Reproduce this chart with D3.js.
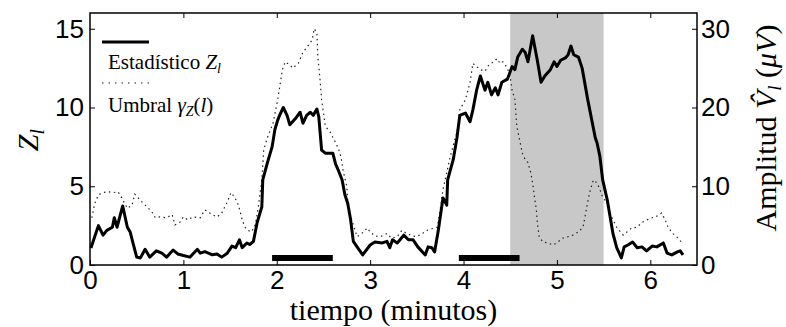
<!DOCTYPE html>
<meta charset="utf-8">
<script src="https://d3js.org/d3.v7.min.js"></script>
<style>
  body { margin: 0; background: #fff; }
</style>
<div id="chart"></div>
<script>
// estadistico Z_l (linea continua)
const tZ = [0.01,0.09,0.14,0.18,0.24,0.26,0.29,0.35,0.40,0.43,0.46,0.50,0.54,0.59,0.64,0.71,0.77,0.82,0.89,0.94,
  1.00,1.07,1.15,1.18,1.23,1.31,1.36,1.41,1.47,1.52,1.56,1.60,1.63,1.68,1.71,1.75,1.79,1.84,1.85,1.90,1.95,1.98,
  2.01,2.03,2.07,2.11,2.14,2.20,2.25,2.28,2.32,2.36,2.39,2.43,2.45,2.48,2.52,2.60,2.63,2.66,2.70,2.73,2.76,2.79,
  2.82,2.86,2.92,3.00,3.05,3.13,3.18,3.21,3.24,3.29,3.32,3.36,3.41,3.46,3.51,3.59,3.62,3.66,3.69,3.73,3.78,3.82,
  3.83,3.89,3.93,3.96,4.02,4.07,4.10,4.14,4.18,4.23,4.26,4.30,4.34,4.37,4.41,4.47,4.52,4.55,4.58,4.63,4.66,4.69,
  4.74,4.79,4.83,4.87,4.93,4.97,5.00,5.04,5.09,5.12,5.15,5.18,5.23,5.27,5.33,5.41,5.43,5.46,5.49,5.54,5.57,5.60,
  5.64,5.69,5.72,5.76,5.81,5.86,5.91,5.96,6.02,6.07,6.14,6.18,6.23,6.29,6.32,6.35];
const zZ = [1.08,2.5,1.9,2.2,2.4,3.0,2.4,3.75,2.4,2.1,1.4,0.5,0.45,1.0,0.5,0.9,0.75,0.5,0.95,0.7,
  0.6,0.5,1.0,0.75,0.85,0.65,0.7,0.5,0.75,1.2,1.1,1.6,1.1,1.4,1.3,1.5,2.7,3.7,5.4,6.5,7.5,8.6,
  9.2,9.5,10.0,9.5,8.9,9.3,9.7,9.0,9.5,9.7,9.5,9.9,9.4,7.3,7.1,7.1,6.4,6.0,5.4,4.45,3.9,2.9,
  1.5,1.15,0.64,1.27,1.46,1.4,1.5,1.1,1.6,1.4,1.6,1.9,1.6,1.6,1.15,0.64,1.15,1.1,0.83,2.2,4.26,3.8,
  5.4,6.7,8.1,9.5,9.65,9.1,9.85,11.1,12.0,11.1,11.6,10.8,11.25,10.8,11.6,11.8,12.6,12.4,13.2,13.7,13.5,12.9,
  14.55,13.0,11.6,12.0,12.4,12.9,12.6,13.0,13.15,13.35,13.9,13.35,13.2,12.5,10.5,8.1,7.75,6.9,5.4,4.1,3.05,2.0,
  1.1,0.45,1.15,1.27,1.46,1.1,1.15,0.9,1.2,1.15,1.4,0.75,0.64,0.83,0.9,0.64];

// umbral gamma_Z(l) (linea punteada)
const tU = [0.02,0.05,0.09,0.14,0.19,0.25,0.30,0.34,0.40,0.45,0.48,0.54,0.61,0.66,0.70,0.75,0.82,0.88,0.91,0.96,
  1.00,1.05,1.10,1.18,1.23,1.31,1.36,1.41,1.47,1.51,1.55,1.59,1.63,1.66,1.69,1.73,1.77,1.80,1.84,1.86,1.90,1.96,
  2.01,2.06,2.09,2.14,2.17,2.23,2.28,2.32,2.38,2.40,2.43,2.44,2.46,2.48,2.52,2.57,2.61,2.66,2.69,2.71,2.75,2.76,
  2.78,2.86,2.91,2.97,3.00,3.05,3.11,3.18,3.23,3.29,3.34,3.39,3.45,3.50,3.56,3.61,3.66,3.72,3.75,3.78,3.82,3.85,
  3.89,3.93,3.96,4.02,4.07,4.09,4.10,4.14,4.18,4.23,4.27,4.32,4.36,4.39,4.42,4.47,4.50,4.52,4.55,4.57,4.60,4.63,
  4.66,4.69,4.72,4.74,4.76,4.78,4.79,4.81,4.85,4.90,4.96,5.01,5.06,5.12,5.17,5.23,5.28,5.30,5.32,5.35,5.39,5.43,
  5.46,5.49,5.54,5.57,5.60,5.64,5.68,5.71,5.75,5.80,5.86,5.91,5.96,6.02,6.07,6.12,6.16,6.19,6.24,6.30,6.34];
const zU = [3.0,3.9,4.45,4.6,4.65,4.6,4.65,4.26,3.6,3.8,4.5,4.1,3.7,3.4,3.0,3.05,3.0,3.2,2.55,2.7,
  3.05,2.86,3.05,3.0,3.5,3.2,3.05,3.3,4.0,4.6,4.3,3.8,2.86,2.4,2.2,2.1,2.55,3.6,5.4,7.3,8.1,9.0,
  10.5,12.4,12.9,12.7,12.5,12.8,13.5,13.8,14.3,15.0,14.75,13.2,12.0,10.5,8.8,8.45,8.0,7.4,6.8,6.0,5.0,4.1,
  3.3,1.8,2.0,2.35,2.1,1.85,1.8,2.0,1.7,1.8,2.2,2.0,1.85,1.8,2.0,2.2,2.3,2.4,3.5,4.8,5.85,6.7,
  7.6,8.45,9.85,10.5,11.6,12.4,12.8,12.6,12.4,12.3,12.7,12.9,13.1,12.8,12.9,12.5,11.9,11.1,10.5,8.8,7.95,7.1,
  6.7,6.5,5.85,5.2,4.3,3.5,2.7,1.8,1.46,1.4,1.27,1.46,1.7,1.8,1.9,2.1,2.4,3.05,3.7,4.6,5.4,5.2,
  4.8,4.3,3.9,3.3,2.86,2.4,2.1,1.9,2.1,2.35,2.4,2.7,2.86,3.0,3.1,3.3,2.86,2.4,2.0,1.7,1.4];

const zonaGris = [4.5, 5.5];
const detecciones = [[1.95, 2.6], [3.95, 4.6]];
const nivelDeteccion = 0.45;
const xTicks = [0, 1, 2, 3, 4, 5, 6];
const yTicks = [0, 5, 10, 15];
const y2Ticks = [0, 10, 20, 30];

const SANS = "Liberation Sans";
const SERIF = "Liberation Serif";   // ojo: letter-spacing rompe la fuente

const W = 786, H = 327;
const margin = {top: 13, right: 89, bottom: 62, left: 90};
const w = W - margin.left - margin.right;
const h = H - margin.top - margin.bottom;

const svg = d3.select("#chart").append("svg")
  .attr("width", W).attr("height", H);
const g = svg.append("g").attr("transform", `translate(${margin.left},${margin.top})`);

const x = d3.scaleLinear().domain([0, 6.5]).range([0, w]);
const y = d3.scaleLinear().domain([0, 16]).range([h, 0]);
const y2 = d3.scaleLinear().domain([0, 32]).range([h, 0]);

// zona sombreada
g.append("rect")
  .attr("x", x(zonaGris[0])).attr("y", 0)
  .attr("width", x(zonaGris[1]) - x(zonaGris[0])).attr("height", h)
  .attr("fill", "#c8c8c8");

const linea = d3.line().x(d => x(d[0])).y(d => y(d[1]));
g.append("path")
  .datum(tU.map((t, i) => [t, zU[i]]))
  .attr("d", linea)
  .attr("fill", "none").attr("stroke", "#222")
  .attr("stroke-width", 1.2).attr("stroke-dasharray", "1.5,3.5");

g.append("path")
  .datum(tZ.map((t, i) => [t, zZ[i]]))
  .attr("d", linea)
  .attr("fill", "none").attr("stroke", "#000")
  .attr("stroke-width", 3).attr("stroke-linejoin", "round");

// barras de deteccion
g.selectAll(".det").data(detecciones).join("line")
  .attr("x1", d => x(d[0])).attr("x2", d => x(d[1]))
  .attr("y1", y(nivelDeteccion)).attr("y2", y(nivelDeteccion))
  .attr("stroke", "#000").attr("stroke-width", 6);

// ejes
const fmt = d3.format("d");
const ejeX = g.append("g").attr("transform", `translate(0,${h})`)
  .call(d3.axisBottom(x).tickValues(xTicks).tickFormat(fmt).tickSize(-5).tickPadding(6));
g.append("g")
  .call(d3.axisTop(x).tickValues(xTicks.slice(1)).tickSize(-5).tickFormat(""));
const ejeY = g.append("g")
  .call(d3.axisLeft(y).tickValues(yTicks).tickFormat(fmt).tickSize(-5).tickPadding(6));
const ejeY2 = g.append("g").attr("transform", `translate(${w},0)`)
  .call(d3.axisRight(y2).tickValues(y2Ticks).tickFormat(fmt).tickSize(-5).tickPadding(4));
g.selectAll(".domain").remove();
[ejeX, ejeY, ejeY2].forEach(a => a.attr("font-family", SANS).attr("font-size", 26));
g.selectAll(".tick line").attr("stroke", "#000").attr("stroke-width", 1);
g.selectAll(".tick text").attr("fill", "#000");

g.append("rect").attr("width", w).attr("height", h)
  .attr("fill", "none").attr("stroke", "#000").attr("stroke-width", 1.5);

// leyenda
g.append("line").attr("x1", 12).attr("x2", 59).attr("y1", 29).attr("y2", 29)
  .attr("stroke", "#000").attr("stroke-width", 3);
const l1 = g.append("text").attr("x", 18).attr("y", 56)
  .attr("font-family", SERIF).attr("font-size", 21);
l1.append("tspan").text("Estadístico ");
l1.append("tspan").attr("font-style", "italic").text("Z");
l1.append("tspan").attr("font-style", "italic").attr("font-size", 14).attr("dy", 4).text("l");

g.append("line").attr("x1", 12).attr("x2", 59).attr("y1", 70).attr("y2", 70)
  .attr("stroke", "#222").attr("stroke-width", 1.2).attr("stroke-dasharray", "1.5,5");
const l2 = g.append("text").attr("x", 18).attr("y", 99)
  .attr("font-family", SERIF).attr("font-size", 21);
l2.append("tspan").text("Umbral ");
l2.append("tspan").attr("font-style", "italic").text("γ");
l2.append("tspan").attr("font-style", "italic").attr("font-size", 14).attr("dy", 4).text("Z");
l2.append("tspan").attr("dy", -4).text("(");
l2.append("tspan").attr("font-style", "italic").text("l");
l2.append("tspan").text(")");

// titulos de ejes
svg.append("text")
  .attr("x", margin.left + w / 2).attr("y", 320)
  .attr("text-anchor", "middle")
  .attr("font-family", SERIF).attr("font-size", 30)
  .text("tiempo (minutos)");

const yl = svg.append("text")
  .attr("transform", "translate(38,140) rotate(-90)")
  .attr("text-anchor", "middle")
  .attr("font-family", SERIF).attr("font-size", 30);
yl.append("tspan").attr("font-style", "italic").text("Z");
yl.append("tspan").attr("font-style", "italic").attr("font-size", 20).attr("dy", 6).text("l");

const yr = svg.append("text")
  .attr("transform", "translate(776,128) rotate(-90)")
  .attr("text-anchor", "middle")
  .attr("font-family", SERIF).attr("font-size", 30);
yr.append("tspan").text("Amplitud ");
yr.append("tspan").attr("font-style", "italic").text("V\u0302");
yr.append("tspan").attr("font-style", "italic").attr("font-size", 19).attr("dy", 5).text("l");
yr.append("tspan").attr("dy", -5).text(" (");
yr.append("tspan").attr("font-style", "italic").text("μV");
yr.append("tspan").text(")");
</script>
